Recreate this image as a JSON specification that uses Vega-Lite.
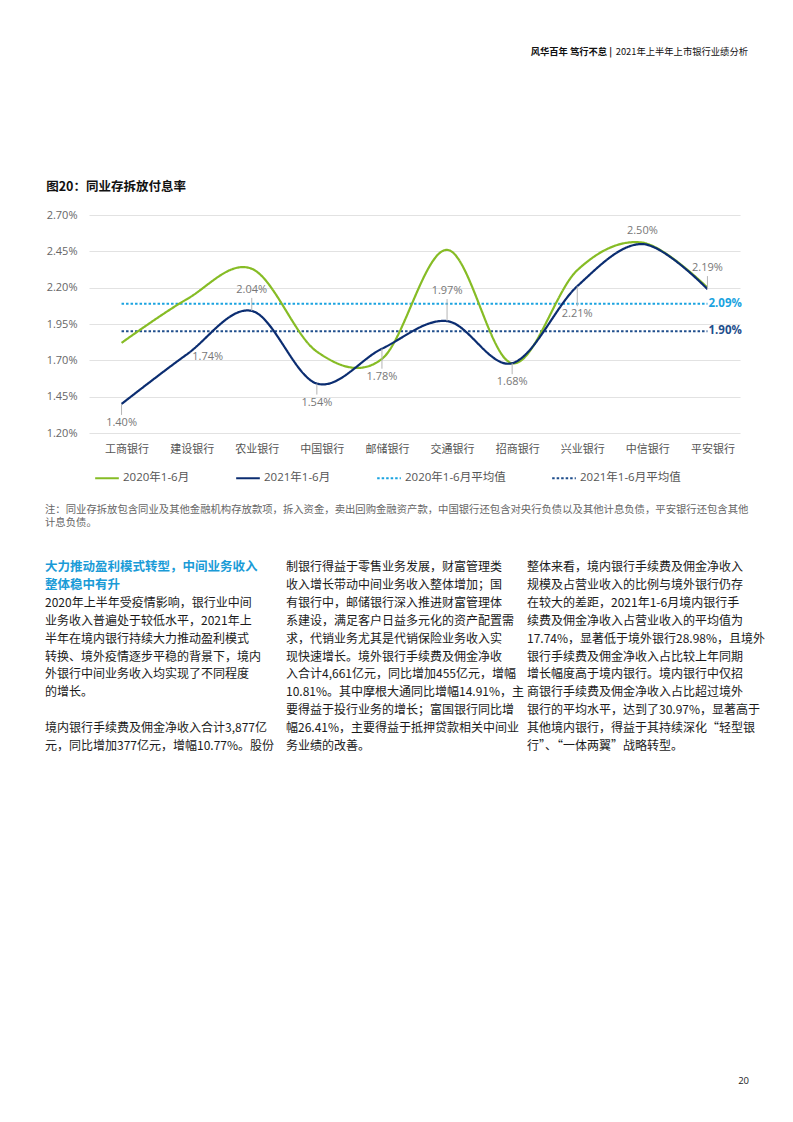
{
  "$schema": "https://vega.github.io/schema/vega-lite/v6.json",
  "background": "white",
  "padding": {"left": 45, "top": 42, "right": 10, "bottom": 10},
  "config": {
    "view": {"stroke": null},
    "font": "Open Sans, Noto Sans CJK SC",
    "legend": {"symbolType": "stroke"}
  },
  "datasets": {
    "header": [{"brand": "风华百年 笃行不怠 |", "report": "2021年上半年上市银行业绩分析"}],
    "rates": [
      {"bank": "工商银行", "series": "2020年1-6月", "value": 0.0182},
      {"bank": "建设银行", "series": "2020年1-6月", "value": 0.0212},
      {"bank": "农业银行", "series": "2020年1-6月", "value": 0.0233},
      {"bank": "中国银行", "series": "2020年1-6月", "value": 0.0176},
      {"bank": "邮储银行", "series": "2020年1-6月", "value": 0.0171},
      {"bank": "交通银行", "series": "2020年1-6月", "value": 0.0246},
      {"bank": "招商银行", "series": "2020年1-6月", "value": 0.0168},
      {"bank": "兴业银行", "series": "2020年1-6月", "value": 0.0232},
      {"bank": "中信银行", "series": "2020年1-6月", "value": 0.0251},
      {"bank": "平安银行", "series": "2020年1-6月", "value": 0.0220},
      {"bank": "工商银行", "series": "2021年1-6月", "value": 0.0140},
      {"bank": "建设银行", "series": "2021年1-6月", "value": 0.0174},
      {"bank": "农业银行", "series": "2021年1-6月", "value": 0.0204},
      {"bank": "中国银行", "series": "2021年1-6月", "value": 0.0154},
      {"bank": "邮储银行", "series": "2021年1-6月", "value": 0.0178},
      {"bank": "交通银行", "series": "2021年1-6月", "value": 0.0197},
      {"bank": "招商银行", "series": "2021年1-6月", "value": 0.0168},
      {"bank": "兴业银行", "series": "2021年1-6月", "value": 0.0221},
      {"bank": "中信银行", "series": "2021年1-6月", "value": 0.0250},
      {"bank": "平安银行", "series": "2021年1-6月", "value": 0.0219}
    ],
    "avgs": [
      {"series": "2020年1-6月平均值", "value": 0.0209},
      {"series": "2021年1-6月平均值", "value": 0.0190}
    ],
    "note": [
      {"line": 0, "text": "注：同业存拆放包含同业及其他金融机构存放款项，拆入资金，卖出回购金融资产款，中国银行还包含对央行负债以及其他计息负债，平安银行还包含其他"},
      {"line": 1, "text": "计息负债。"}
    ],
    "paragraphs": [
      {"col": 1, "line": 0, "kind": "heading", "text": "大力推动盈利模式转型，中间业务收入"},
      {"col": 1, "line": 1, "kind": "heading", "text": "整体稳中有升"},
      {"col": 1, "line": 2, "kind": "body", "text": "2020年上半年受疫情影响，银行业中间"},
      {"col": 1, "line": 3, "kind": "body", "text": "业务收入普遍处于较低水平，2021年上"},
      {"col": 1, "line": 4, "kind": "body", "text": "半年在境内银行持续大力推动盈利模式"},
      {"col": 1, "line": 5, "kind": "body", "text": "转换、境外疫情逐步平稳的背景下，境内"},
      {"col": 1, "line": 6, "kind": "body", "text": "外银行中间业务收入均实现了不同程度"},
      {"col": 1, "line": 7, "kind": "body", "text": "的增长。"},
      {"col": 1, "line": 9, "kind": "body", "text": "境内银行手续费及佣金净收入合计3,877亿"},
      {"col": 1, "line": 10, "kind": "body", "text": "元，同比增加377亿元，增幅10.77%。股份"},
      {"col": 2, "line": 0, "kind": "body", "text": "制银行得益于零售业务发展，财富管理类"},
      {"col": 2, "line": 1, "kind": "body", "text": "收入增长带动中间业务收入整体增加；国"},
      {"col": 2, "line": 2, "kind": "body", "text": "有银行中，邮储银行深入推进财富管理体"},
      {"col": 2, "line": 3, "kind": "body", "text": "系建设，满足客户日益多元化的资产配置需"},
      {"col": 2, "line": 4, "kind": "body", "text": "求，代销业务尤其是代销保险业务收入实"},
      {"col": 2, "line": 5, "kind": "body", "text": "现快速增长。境外银行手续费及佣金净收"},
      {"col": 2, "line": 6, "kind": "body", "text": "入合计4,661亿元，同比增加455亿元，增幅"},
      {"col": 2, "line": 7, "kind": "body", "text": "10.81%。其中摩根大通同比增幅14.91%，主"},
      {"col": 2, "line": 8, "kind": "body", "text": "要得益于投行业务的增长；富国银行同比增"},
      {"col": 2, "line": 9, "kind": "body", "text": "幅26.41%，主要得益于抵押贷款相关中间业"},
      {"col": 2, "line": 10, "kind": "body", "text": "务业绩的改善。"},
      {"col": 3, "line": 0, "kind": "body", "text": "整体来看，境内银行手续费及佣金净收入"},
      {"col": 3, "line": 1, "kind": "body", "text": "规模及占营业收入的比例与境外银行仍存"},
      {"col": 3, "line": 2, "kind": "body", "text": "在较大的差距，2021年1-6月境内银行手"},
      {"col": 3, "line": 3, "kind": "body", "text": "续费及佣金净收入占营业收入的平均值为"},
      {"col": 3, "line": 4, "kind": "body", "text": "17.74%，显著低于境外银行28.98%，且境外"},
      {"col": 3, "line": 5, "kind": "body", "text": "银行手续费及佣金净收入占比较上年同期"},
      {"col": 3, "line": 6, "kind": "body", "text": "增长幅度高于境内银行。境内银行中仅招"},
      {"col": 3, "line": 7, "kind": "body", "text": "商银行手续费及佣金净收入占比超过境外"},
      {"col": 3, "line": 8, "kind": "body", "text": "银行的平均水平，达到了30.97%，显著高于"},
      {"col": 3, "line": 9, "kind": "body", "text": "其他境内银行，得益于其持续深化“轻型银"},
      {"col": 3, "line": 10, "kind": "body", "text": "行”、“一体两翼”战略转型。"}
    ]
  },
  "resolve": {"scale": {"color": "independent", "strokeDash": "independent"}, "legend": {"color": "independent", "strokeDash": "independent"}},
  "spacing": 118,
  "vconcat": [
    {
      "width": 703,
      "height": 20,
      "data": {"name": "header"},
      "encoding": {
        "x": {"datum": 1, "type": "quantitative", "scale": {"domain": [0, 1]}, "axis": null}
      },
      "layer": [
        {
          "mark": {"type": "text", "align": "right", "baseline": "middle", "fontSize": 9.3, "color": "#111", "font": "Noto Sans CJK SC"},
          "encoding": {"text": {"field": "report"}}
        },
        {
          "mark": {"type": "text", "align": "right", "baseline": "middle", "fontSize": 9.3, "fontWeight": "bold", "color": "#111", "dx": -136, "font": "Noto Sans CJK SC"},
          "encoding": {"text": {"field": "brand"}}
        }
      ]
    },
    {
      "resolve": {"scale": {"color": "independent", "strokeDash": "independent"}, "legend": {"color": "independent", "strokeDash": "independent"}},
      "spacing": 32,
      "vconcat": [
        {
          "resolve": {"scale": {"color": "independent", "strokeDash": "independent"}, "legend": {"color": "independent", "strokeDash": "independent"}},
          "spacing": 16,
          "vconcat": [
            {
              "resolve": {"scale": {"color": "independent", "strokeDash": "independent"}, "legend": {"color": "independent", "strokeDash": "independent"}},
              "spacing": 0,
              "hconcat": [
                {
                  "width": 1,
                  "height": 218,
                  "data": {"values": []},
                  "mark": {"type": "text"},
                  "encoding": {}
                },
                {
                  "width": 651,
                  "height": 218,
                  "title": {"text": "图20：同业存拆放付息率", "anchor": "start", "frame": "bounds", "font": "Noto Sans CJK SC", "fontSize": 12.5, "fontWeight": "bold", "color": "#111", "offset": 16},
                  "data": {"name": "rates"},
                  "encoding": {
                    "x": {
                      "field": "bank", "type": "nominal",
                      "sort": ["工商银行", "建设银行", "农业银行", "中国银行", "邮储银行", "交通银行", "招商银行", "兴业银行", "中信银行", "平安银行"],
                      "scale": {"type": "point", "padding": 0.5},
                      "axis": {"title": null, "domain": false, "ticks": false, "grid": false, "labelAngle": 0, "labelFontSize": 11, "labelColor": "#555", "labelPadding": 10, "labelOffset": 5, "labelFont": "Noto Sans CJK SC"}
                    },
                    "y": {
                      "field": "value", "type": "quantitative",
                      "scale": {"domain": [0.012, 0.027], "nice": false, "zero": false},
                      "axis": {"title": null, "values": [0.012, 0.0145, 0.017, 0.0195, 0.022, 0.0245, 0.027], "format": ".2%", "domain": false, "ticks": false, "grid": true, "gridColor": "#e2e2e2", "gridWidth": 1.2, "labelFontSize": 11, "labelColor": "#666", "labelPadding": 12}
                    }
                  },
                  "layer": [
                    {
                      "data": {"name": "avgs"},
                      "mark": {"type": "rule", "strokeWidth": 2},
                      "encoding": {
                        "x": {"datum": "工商银行", "type": "nominal"},
                        "x2": {"datum": "平安银行"},
                        "color": {"field": "series", "type": "nominal"},
                        "strokeDash": {"field": "series", "type": "nominal"}
                      }
                    },
                    {
                      "mark": {"type": "line", "interpolate": "cardinal", "strokeWidth": 2.2},
                      "encoding": {
                        "color": {
                          "field": "series", "type": "nominal",
                          "scale": {"domain": ["2020年1-6月", "2021年1-6月", "2020年1-6月平均值", "2021年1-6月平均值"], "range": ["#86BC25", "#0B2D71", "#1AA3E0", "#1F4E8C"]},
                          "legend": {"title": null, "orient": "bottom", "offset": 6, "padding": 5, "direction": "horizontal", "symbolType": "stroke", "symbolSize": 560, "symbolStrokeWidth": 2, "labelFontSize": 11.5, "labelColor": "#555", "columnPadding": 42, "labelOffset": 3, "labelFont": "Open Sans, Noto Sans CJK SC"}
                        },
                        "strokeDash": {
                          "field": "series", "type": "nominal",
                          "scale": {"domain": ["2020年1-6月", "2021年1-6月", "2020年1-6月平均值", "2021年1-6月平均值"], "range": [[1, 0], [1, 0], [2.5, 2], [2.5, 2]]},
                          "legend": {"title": null, "orient": "bottom", "offset": 6, "padding": 5, "direction": "horizontal", "symbolType": "stroke", "symbolSize": 560, "symbolStrokeWidth": 2, "labelFontSize": 11.5, "labelColor": "#555", "columnPadding": 42, "labelOffset": 3, "labelFont": "Open Sans, Noto Sans CJK SC"}
                        }
                      }
                    },
                    {
                      "data": {"name": "avgs"},
                      "transform": [{"filter": "datum.series === '2020年1-6月平均值'"}],
                      "mark": {"type": "text", "align": "left", "baseline": "middle", "dx": 1, "fontSize": 11.5, "fontWeight": "bold", "color": "#1AA3E0"},
                      "encoding": {
                        "x": {"datum": "平安银行", "type": "nominal"},
                        "text": {"field": "value", "type": "quantitative", "format": ".2%"}
                      }
                    },
                    {
                      "data": {"name": "avgs"},
                      "transform": [{"filter": "datum.series === '2021年1-6月平均值'"}],
                      "mark": {"type": "text", "align": "left", "baseline": "middle", "dx": 1, "fontSize": 11.5, "fontWeight": "bold", "color": "#1F4E8C"},
                      "encoding": {
                        "x": {"datum": "平安银行", "type": "nominal"},
                        "text": {"field": "value", "type": "quantitative", "format": ".2%"}
                      }
                    },
                    {
                      "transform": [{"filter": "datum.series === '2021年1-6月' && indexof(['农业银行','平安银行'], datum.bank) >= 0"}],
                      "mark": {"type": "rule", "color": "#b5b5b5", "strokeWidth": 1, "y2Offset": -13},
                      "encoding": {"y2": {"field": "value"}}
                    },
                    {
                      "transform": [{"filter": "datum.series === '2021年1-6月' && indexof(['交通银行'], datum.bank) >= 0"}],
                      "mark": {"type": "rule", "color": "#b5b5b5", "strokeWidth": 1, "y2Offset": -22},
                      "encoding": {"y2": {"field": "value"}}
                    },
                    {
                      "transform": [{"filter": "datum.series === '2021年1-6月' && indexof(['工商银行','招商银行','中国银行'], datum.bank) >= 0"}],
                      "mark": {"type": "rule", "color": "#b5b5b5", "strokeWidth": 1, "y2Offset": 11},
                      "encoding": {"y2": {"field": "value"}}
                    },
                    {
                      "transform": [{"filter": "datum.series === '2021年1-6月' && indexof(['邮储银行','兴业银行'], datum.bank) >= 0"}],
                      "mark": {"type": "rule", "color": "#b5b5b5", "strokeWidth": 1, "y2Offset": 20},
                      "encoding": {"y2": {"field": "value"}}
                    },
                    {
                      "transform": [{"filter": "datum.series === '2021年1-6月' && indexof(['农业银行','平安银行'], datum.bank) >= 0"}],
                      "mark": {"type": "text", "baseline": "middle", "dy": -21, "fontSize": 11, "color": "#777"},
                      "encoding": {"text": {"field": "value", "type": "quantitative", "format": ".2%"}}
                    },
                    {
                      "transform": [{"filter": "datum.series === '2021年1-6月' && datum.bank === '交通银行'"}],
                      "mark": {"type": "text", "baseline": "middle", "dy": -30, "fontSize": 11, "color": "#777"},
                      "encoding": {"text": {"field": "value", "type": "quantitative", "format": ".2%"}}
                    },
                    {
                      "transform": [{"filter": "datum.series === '2021年1-6月' && datum.bank === '中信银行'"}],
                      "mark": {"type": "text", "baseline": "middle", "dy": -13, "fontSize": 11, "color": "#777"},
                      "encoding": {"text": {"field": "value", "type": "quantitative", "format": ".2%"}}
                    },
                    {
                      "transform": [{"filter": "datum.series === '2021年1-6月' && indexof(['工商银行','招商银行','中国银行'], datum.bank) >= 0"}],
                      "mark": {"type": "text", "baseline": "middle", "dy": 19, "fontSize": 11, "color": "#777"},
                      "encoding": {"text": {"field": "value", "type": "quantitative", "format": ".2%"}}
                    },
                    {
                      "transform": [{"filter": "datum.series === '2021年1-6月' && indexof(['邮储银行','兴业银行'], datum.bank) >= 0"}],
                      "mark": {"type": "text", "baseline": "middle", "dy": 28, "fontSize": 11, "color": "#777"},
                      "encoding": {"text": {"field": "value", "type": "quantitative", "format": ".2%"}}
                    },
                    {
                      "transform": [{"filter": "datum.series === '2021年1-6月' && datum.bank === '建设银行'"}],
                      "mark": {"type": "text", "baseline": "middle", "dx": 21, "dy": 2, "fontSize": 11, "color": "#777"},
                      "encoding": {"text": {"field": "value", "type": "quantitative", "format": ".2%"}}
                    }
                  ]
                }
              ]
            },
            {
              "width": 703,
              "height": 13,
              "data": {"name": "note"},
              "mark": {"type": "text", "align": "left", "baseline": "middle", "fontSize": 10.35, "color": "#666", "font": "Noto Sans CJK SC"},
              "encoding": {
                "x": {"datum": 0, "type": "quantitative", "scale": {"domain": [0, 1]}, "axis": null},
                "y": {"field": "line", "type": "ordinal", "scale": {"type": "point", "padding": 0}, "axis": null},
                "text": {"field": "text"}
              }
            }
          ]
        },
        {
          "width": 482,
          "height": 179,
          "title": {"text": "20", "orient": "bottom", "anchor": "end", "frame": "bounds", "offset": 324, "dx": -16, "fontSize": 9.5, "fontWeight": "normal", "color": "#222", "font": "Open Sans"},
          "data": {"name": "paragraphs"},
          "encoding": {
            "x": {"field": "col", "type": "ordinal", "scale": {"type": "point", "padding": 0}, "axis": null},
            "y": {"field": "line", "type": "ordinal", "scale": {"type": "point", "padding": 0, "domain": [0, 1, 2, 3, 4, 5, 6, 7, 8, 9, 10]}, "axis": null},
            "text": {"field": "text"}
          },
          "layer": [
            {
              "transform": [{"filter": "datum.kind === 'heading'"}],
              "mark": {"type": "text", "align": "left", "baseline": "middle", "fontSize": 12.5, "fontWeight": "bold", "color": "#1A9BD7", "font": "Noto Sans CJK SC"}
            },
            {
              "transform": [{"filter": "datum.kind === 'body'"}],
              "mark": {"type": "text", "align": "left", "baseline": "middle", "fontSize": 12, "color": "#1a1a1a", "font": "Noto Sans CJK SC"}
            }
          ]
        }
      ]
    }
  ]
}
